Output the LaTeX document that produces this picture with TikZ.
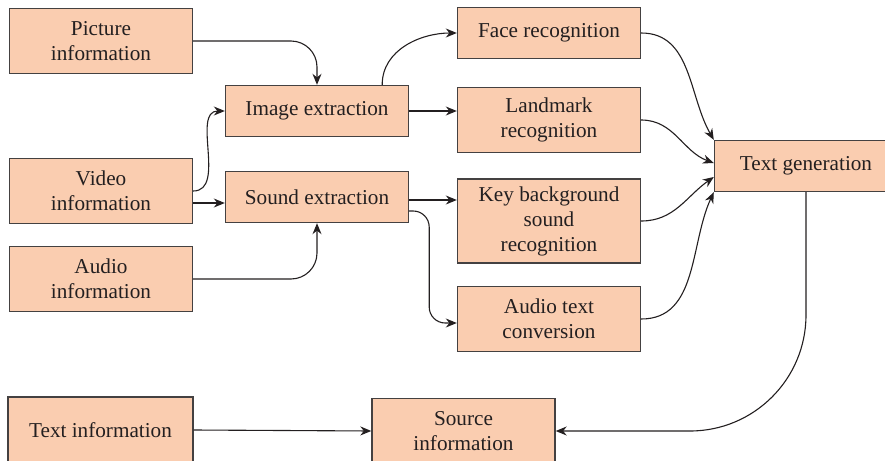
\documentclass[tikz,border=0pt]{standalone}
\usepackage{fontspec}
\setmainfont{Liberation Serif}
\usetikzlibrary{arrows.meta}
\definecolor{peach}{RGB}{250,205,176}
\definecolor{ink}{RGB}{35,31,32}

\begin{document}
\begin{tikzpicture}[x=0.5pt, y=-0.5pt,
  box/.style = {shape=rectangle, draw=ink!85, line width=0.7pt,
    fill=peach, align=center, inner sep=0pt, text=ink,
    minimum width=91.5pt, minimum height=32.5pt,
    font=\fontsize{10.6}{12.5}\selectfont},
  arr/.style = {-{Stealth[length=5.5pt,width=4.5pt]}, draw=ink, line width=0.55pt}]
  \clip (0,0) rectangle (885,461);
  \node[box] (pic) at (101,41) {Picture\\information};
  \node[box] (vid) at (101,191) {Video\\information};
  \node[box] (aud) at (101,279) {Audio\\information};
  \node[box, minimum height=25.5pt] (ie) at (317,111) {Image extraction};
  \node[box, minimum height=25.5pt] (se) at (317,197) {Sound extraction};
  \node[box, minimum height=25.5pt] (face) at (549,33) {Face recognition};
  \node[box] (lm) at (549,120) {Landmark\\recognition};
  \node[box, minimum height=42pt] (kb) at (549,221) {Key background\\sound\\recognition};
  \node[box] (atc) at (549,319) {Audio text\\conversion};
  \node[box, minimum height=25.5pt] (tg) at (806,166) {Text generation};
  \node[box, minimum width=92.5pt, minimum height=33pt] (txt) at (100.5,430) {Text information};
  \node[box] (src) at (463.5,431) {Source\\information};
  \coordinate (v2) at ([yshift=-6pt]vid.east);
  \draw[arr, rounded corners=13pt] (pic.east) -| (ie.north);
  \draw[arr] (vid.east) to[out=0,in=180] (ie.west);
  \draw[arr] (v2) -- (v2 -| se.west);
  \draw[arr, rounded corners=13pt] (aud.east) -| (se.south);
  \draw[arr] ([xshift=-13.5pt]ie.north east) to[out=90,in=180] (face.west);
  \draw[arr] (ie.east) -- (ie.east -| lm.west);
  \draw[arr] ([yshift=-1.5pt]se.east) -- ([yshift=-1.5pt]se.east -| kb.west);
  \draw[arr, rounded corners=8pt] ([yshift=-7pt]se.east) -- ++(10pt,0)
    |- ([yshift=-2pt]atc.west);
  \draw[arr] (face.east) to[out=0,in=120] (tg.north west);
  \draw[arr] (lm.east) to[out=0,in=160] ([yshift=1.5pt]tg.west);
  \draw[arr] (kb.east) to[out=0,in=215] ([yshift=-5.5pt]tg.west);
  \draw[arr] (atc.east) to[out=0,in=245] (tg.south west);
  \draw[arr, rounded corners=58pt] (tg.south) |- (src.east);
  \draw[arr] (txt.east) -- (src.west);
\end{tikzpicture}
\end{document}
